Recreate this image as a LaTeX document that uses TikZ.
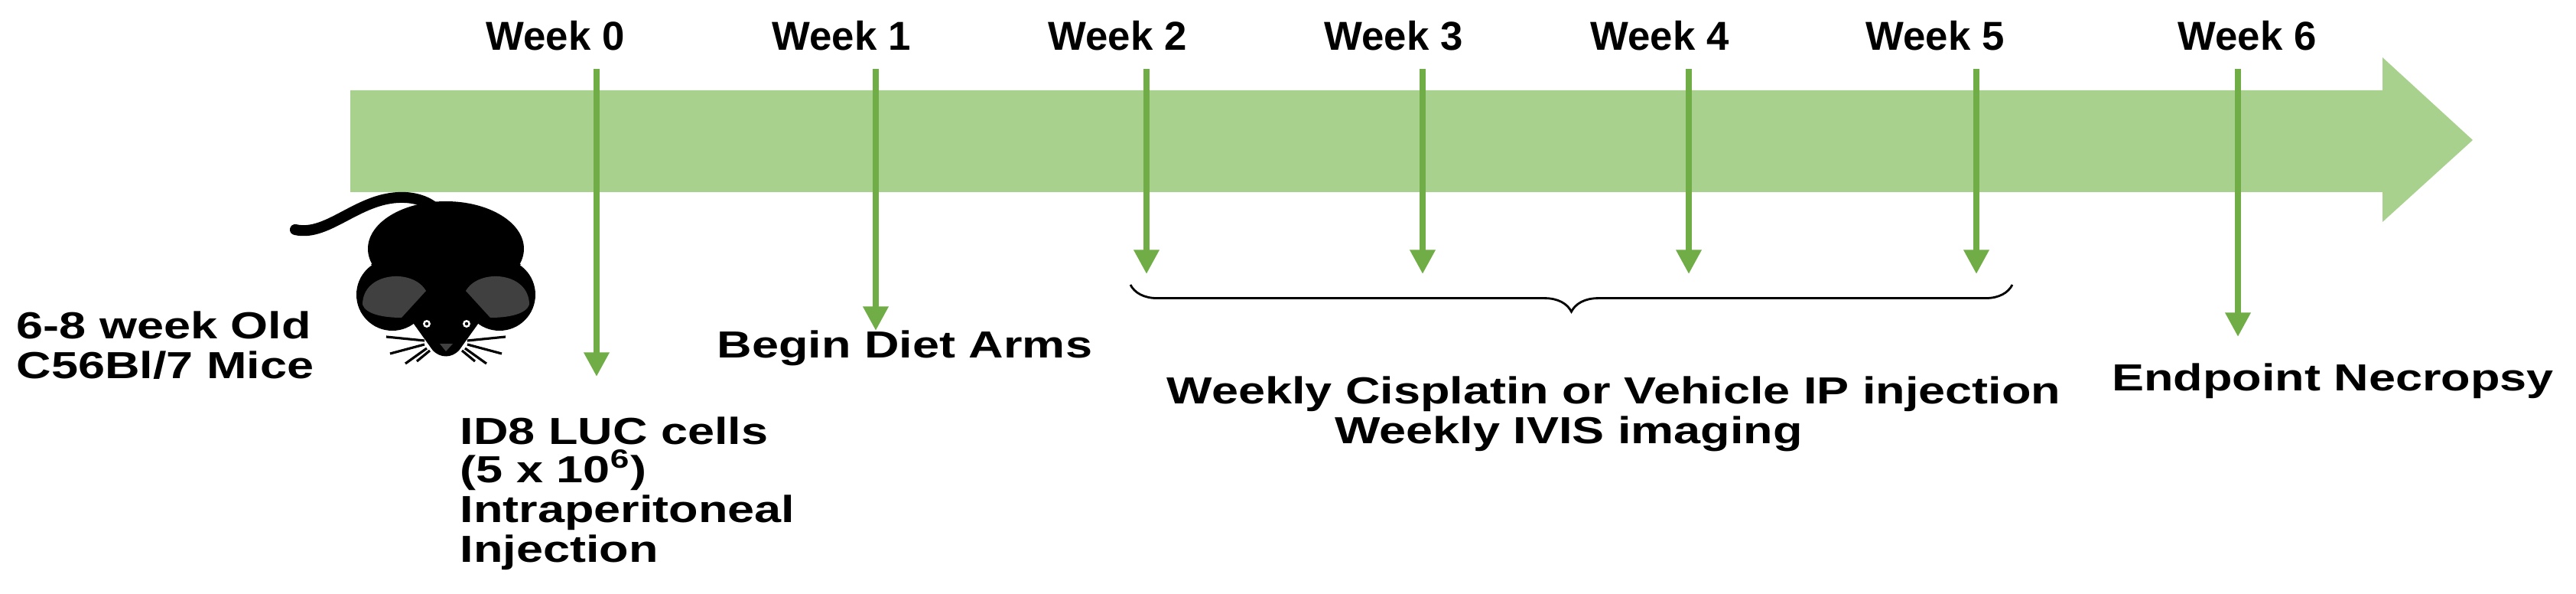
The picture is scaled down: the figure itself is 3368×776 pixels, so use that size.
\documentclass[tikz,border=0pt]{standalone}
\usepackage{fontspec}
\setmainfont{Liberation Sans}
\usetikzlibrary{decorations.pathreplacing,arrows.meta}
\definecolor{shaft}{HTML}{A9D18E}
\definecolor{tick}{HTML}{70AD47}
\definecolor{eargray}{HTML}{404040}
\newcommand{\wide}[1]{\scalebox{1.28}[1]{#1}}
\begin{document}
\begin{tikzpicture}[x=0.01cm,y=-0.01cm,
  wk/.style={font=\fontsize{15}{17}\selectfont\bfseries, inner sep=0pt},
  txt/.style={font=\fontsize{14}{17}\selectfont\bfseries, inner sep=0pt},
  tickarrow/.style={draw=tick, line width=2.2pt, -{Triangle[width=9pt,length=9pt]}}]
\useasboundingbox (0,0) rectangle (3368,776);
% timeline arrow
\fill[shaft] (458,118) -- (3115,118) -- (3115,75) -- (3233,183) -- (3115,290) -- (3115,251) -- (458,251) -- cycle;
% week labels
\foreach \n/\lx/\tx/\ey in {0/726/780/492, 1/1100/1145/432, 2/1461/1499/358, 3/1822/1860/358, 4/2170/2208/358, 5/2530/2584/358, 6/2938/2926/440}{
  \node[wk] (w\n) at (\lx,47) {Week \n};
  \coordinate (s\n) at (\tx,90);
  \coordinate (e\n) at (\tx,\ey);
  \draw[tickarrow] (s\n) -- (e\n);
}
% mouse
\begin{scope}
\draw[line width=4pt, line cap=round] (386,300) .. controls (430,310) and (470,255) .. (530,258) .. controls (565,260) and (580,280) .. (590,300);
\fill (583,325) ellipse (102 and 62);
\fill (485,345) -- (681,345) -- (600,458) .. controls (590,468) and (576,468) .. (566,458) -- cycle;
\fill (513,385) circle (47);
\fill (653,385) circle (47);
\fill[eargray] (474,398) .. controls (474,355) and (540,350) .. (557,380) -- (525,415) .. controls (500,415) and (478,410) .. (474,398) -- cycle;
\fill[eargray] (692,398) .. controls (692,355) and (626,350) .. (609,380) -- (641,415) .. controls (666,415) and (688,410) .. (692,398) -- cycle;
\fill[white] (558,423) circle (5);
\fill[white] (610,423) circle (5);
\fill (558,423) circle (2.2);
\fill (610,423) circle (2.2);
\fill[eargray] (575,449) -- (592,449) -- (583,459) -- cycle;
\draw[line width=0.9pt] (555,445) -- (505,440) (555,450) -- (510,462) (558,455) -- (530,475) (562,458) -- (545,472);
\draw[line width=0.9pt] (611,445) -- (661,440) (611,450) -- (656,462) (608,455) -- (636,475) (604,458) -- (621,472);
\end{scope}
% texts
\node[txt, anchor=west] (mice1) at (21,425) {\wide{6-8 week Old}};
\node[txt, anchor=west] (mice2) at (21,477) {\wide{C56Bl/7 Mice}};
\node[txt] (diet) at (1183,455) {\wide{Begin Diet Arms}};
\node[txt, anchor=west] (id1) at (601,563) {\wide{ID8 LUC cells}};
\node[txt, anchor=west] (id2) at (601,614) {\wide{(5 x 10\textsuperscript{6})}};
\node[txt, anchor=west] (id3) at (601,670) {\wide{Intraperitoneal}};
\node[txt, anchor=west] (id4) at (601,722) {\wide{Injection}};
\coordinate (b1) at (1478,372);
\coordinate (b2) at (2631,372);
\draw[line width=0.8pt, decorate, decoration={brace, mirror, amplitude=10pt}] (b1) -- (b2);
\node[txt] (cis) at (2110,515) {\wide{Weekly Cisplatin or Vehicle IP injection}};
\node[txt] (ivis) at (2051,567) {\wide{Weekly IVIS imaging}};
\node[txt] (necro) at (3050,498) {\wide{Endpoint Necropsy}};
\end{tikzpicture}
\end{document}
